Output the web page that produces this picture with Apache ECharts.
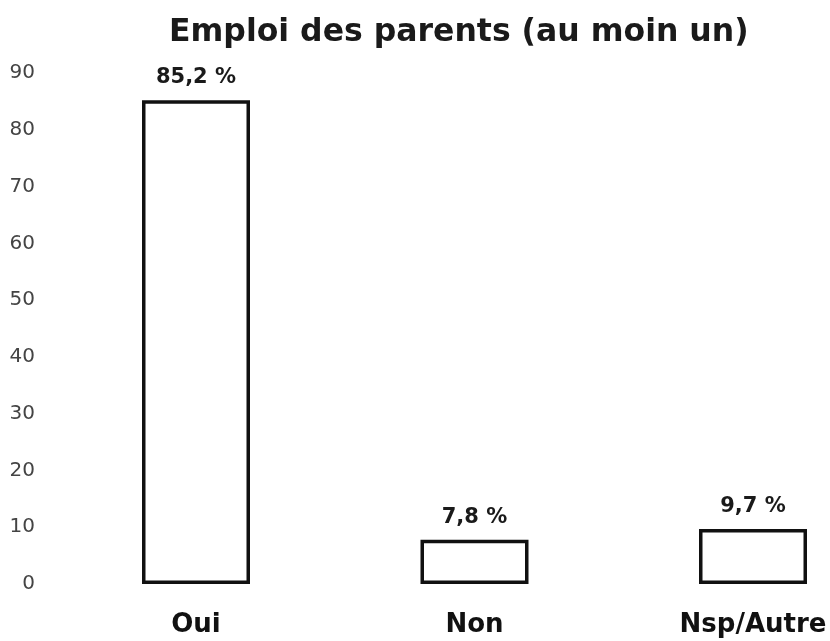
<!DOCTYPE html>
<html>
<head>
<meta charset="utf-8">
<script src="https://cdn.jsdelivr.net/npm/echarts@6/dist/echarts.min.js"></script>
<style>
    html, body { margin: 0; padding: 0; background: #fff; }
    #chart { width: 830px; height: 641px; }
</style>
</head>
<body>
<div id="chart"></div>
<script>
var categories = ['Oui', 'Non', 'Nsp/Autre'];
var values = [85.2, 7.8, 9.7];
var valueLabels = ['85,2 %', '7,8 %', '9,7 %'];
var yTicks = [0, 10, 20, 30, 40, 50, 60, 70, 80, 90];

var chart = echarts.init(document.getElementById('chart'));

var option = {
    backgroundColor: '#ffffff',
    animation: false,
    title: {
        text: 'Emploi des parents (au moin un)',
        left: 164,
        top: 12,
        textStyle: {
            fontFamily: 'DejaVu Sans',
            fontWeight: 'bold',
            fontSize: 31.5,
            color: '#1a1a1a'
        }
    },
    grid: {
        left: 196,
        right: 77,
        top: 73,
        bottom: 57
    },
    xAxis: {
        type: 'category',
        data: categories,
        boundaryGap: false,
        axisLine: { show: false },
        axisTick: { show: false },
        splitLine: { show: false },
        axisLabel: {
            margin: 28,
            fontFamily: 'DejaVu Sans',
            fontWeight: 'bold',
            fontSize: 26,
            color: '#111'
        }
    },
    yAxis: {
        type: 'value',
        min: 0,
        max: 90,
        interval: 10,
        axisLine: { show: false },
        axisTick: { show: false },
        splitLine: { show: false },
        axisLabel: {
            margin: 161,
            fontFamily: 'DejaVu Sans',
            fontSize: 20,
            color: '#444',
            formatter: function (v) {
                return yTicks.indexOf(v) >= 0 ? String(v) : '';
            }
        }
    },
    series: [{
        type: 'bar',
        data: values,
        barWidth: 108,
        itemStyle: {
            color: '#ffffff',
            borderColor: '#111111',
            borderWidth: 3.5
        },
        label: {
            show: true,
            position: 'top',
            distance: 12,
            fontFamily: 'DejaVu Sans',
            fontWeight: 'bold',
            fontSize: 21,
            color: '#1a1a1a',
            formatter: function (p) {
                return valueLabels[p.dataIndex];
            }
        }
    }]
};

chart.setOption(option);
</script>
</body>
</html>
